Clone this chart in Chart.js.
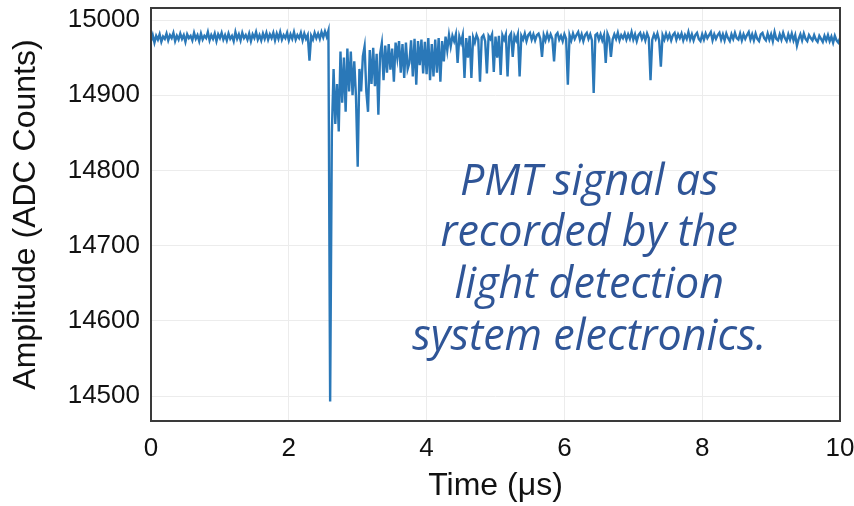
<!DOCTYPE html>
<html>
<head>
<meta charset="utf-8">
<script src="https://cdn.jsdelivr.net/npm/chart.js@4.4.1/dist/chart.umd.min.js"></script>
<style>
  html, body { margin: 0; padding: 0; background: #fff; }
  #wrap { width: 854px; height: 506px; }
</style>
</head>
<body>
<div id="wrap"><canvas id="pmtChart" width="854" height="506"></canvas></div>
<script>
// sample spacing of the trace, in microseconds
const sampleStep = 0.025;

// ADC counts, one per sample
const amplitude = [
  14972, 14980, 14970, 14979, 14974, 14981, 14971, 14978, 14975, 14982, // 0
  14973, 14980, 14976, 14983, 14972, 14979, 14974, 14982, 14975, 14980, // 10
  14971, 14981, 14976, 14979, 14973, 14983, 14975, 14980, 14972, 14982, // 20
  14974, 14979, 14976, 14984, 14973, 14980, 14975, 14982, 14972, 14981, // 30
  14976, 14983, 14974, 14980, 14973, 14982, 14975, 14979, 14972, 14984, // 40
  14975, 14981, 14973, 14983, 14976, 14980, 14974, 14982, 14972, 14981, // 50
  14976, 14984, 14974, 14980, 14973, 14982, 14975, 14983, 14974, 14981, // 60
  14976, 14983, 14973, 14982, 14975, 14984, 14974, 14980, 14976, 14983, // 70
  14973, 14981, 14975, 14984, 14974, 14980, 14976, 14983, 14973, 14982, // 80
  14975, 14980, 14946, 14979, 14974, 14983, 14976, 14982, 14975, 14984, // 90
  14977, 14985, 14978, 14986, 14493, 14850, 14935, 14862, 14915, 14852, // 100
  14958, 14890, 14950, 14878, 14962, 14905, 14958, 14900, 14945, 14898, // 110
  14805, 14935, 14905, 14952, 14965, 14905, 14878, 14960, 14915, 14963, // 120
  14912, 14955, 14874, 14955, 14969, 14920, 14966, 14930, 14968, 14934, // 130
  14962, 14918, 14970, 14950, 14972, 14930, 14968, 14923, 14970, 14935, // 140
  14943, 14973, 14925, 14975, 14914, 14972, 14940, 14974, 14929, 14971, // 150
  14928, 14976, 14920, 14968, 14925, 14974, 14930, 14976, 14918, 14972, // 160
  14945, 14978, 14960, 14980, 14965, 14979, 14972, 14981, 14943, 14978, // 170
  14970, 14980, 14923, 14976, 14950, 14979, 14923, 14977, 14970, 14980, // 180
  14974, 14918, 14977, 14980, 14972, 14929, 14979, 14975, 14981, 14931, // 190
  14978, 14950, 14979, 14927, 14980, 14974, 14981, 14925, 14978, 14982, // 200
  14951, 14979, 14973, 14981, 14925, 14979, 14974, 14982, 14972, 14980, // 210
  14983, 14974, 14981, 14973, 14980, 14982, 14975, 14951, 14980, 14973, // 220
  14982, 14974, 14981, 14975, 14945, 14980, 14983, 14974, 14979, 14972, // 230
  14981, 14975, 14914, 14980, 14973, 14982, 14975, 14980, 14984, 14974, // 240
  14981, 14972, 14980, 14983, 14975, 14981, 14973, 14903, 14980, 14982, // 250
  14974, 14981, 14973, 14980, 14943, 14982, 14976, 14951, 14974, 14981, // 260
  14975, 14983, 14973, 14980, 14976, 14982, 14974, 14981, 14975, 14984, // 270
  14974, 14981, 14972, 14980, 14983, 14975, 14981, 14973, 14982, 14976, // 280
  14920, 14974, 14981, 14975, 14982, 14973, 14938, 14980, 14974, 14982, // 290
  14975, 14981, 14973, 14980, 14983, 14974, 14981, 14976, 14982, 14973, // 300
  14980, 14975, 14984, 14974, 14981, 14973, 14980, 14983, 14975, 14972, // 310
  14981, 14974, 14982, 14976, 14980, 14984, 14973, 14981, 14975, 14980, // 320
  14983, 14974, 14981, 14973, 14982, 14976, 14972, 14981, 14975, 14983, // 330
  14976, 14974, 14982, 14973, 14981, 14975, 14980, 14984, 14974, 14981, // 340
  14973, 14982, 14975, 14972, 14981, 14983, 14976, 14973, 14982, 14974, // 350
  14981, 14972, 14984, 14975, 14973, 14981, 14974, 14983, 14976, 14972, // 360
  14981, 14974, 14982, 14973, 14980, 14966, 14975, 14981, 14973, 14982, // 370
  14975, 14972, 14980, 14976, 14973, 14980, 14974, 14971, 14979, 14975, // 380
  14971, 14979, 14973, 14980, 14972, 14978, 14970, 14979, 14973, 14970, // 390
  14976                                                                 // 400
];

const xTicks = [0, 2, 4, 6, 8, 10];
const yTicks = [14500, 14600, 14700, 14800, 14900, 15000];
const noteLines = ['PMT signal as', 'recorded by the', 'light detection', 'system electronics.'];

const points = amplitude.map((v, i) => ({ x: +(i * sampleStep).toFixed(3), y: v }));

// box around the plot + the blue note
const frameAndNote = {
  id: 'frameAndNote',
  afterDraw(chart) {
    const { ctx, chartArea: a, scales } = chart;
    ctx.save();
    ctx.strokeStyle = '#3a3a3a';
    ctx.lineWidth = 2;
    ctx.strokeRect(a.left, a.top, a.right - a.left, a.bottom - a.top);

    ctx.fillStyle = '#2f5597';
    ctx.font = 'italic 43px "Open Sans"';
    ctx.textAlign = 'center';
    ctx.textBaseline = 'alphabetic';
    const cx = scales.x.getPixelForValue(6.36);
    const y0 = scales.y.getPixelForValue(14768);
    noteLines.forEach((line, k) => {
      ctx.fillText(line, cx, y0 + k * 51.7);
    });
    ctx.restore();
  }
};

const ctx = document.getElementById('pmtChart').getContext('2d');
const pmtChart = new Chart(ctx, {
  type: 'line',
  data: {
    datasets: [{
      data: points,
      borderColor: '#2a78b8',
      borderWidth: 2.4,
      pointRadius: 0,
      tension: 0,
      fill: false
    }]
  },
  options: {
    responsive: false,
    animation: false,
    layout: { padding: { top: 8, right: 14, left: 0, bottom: 0 } },
    plugins: {
      legend: { display: false },
      tooltip: { enabled: false }
    },
    scales: {
      x: {
        type: 'linear',
        min: 0,
        max: 10,
        afterBuildTicks: s => { s.ticks = xTicks.map(v => ({ value: v })); },
        afterFit: s => { s.height = 85; s.paddingLeft = 0; s.paddingRight = 0; },
        grid: { color: '#ececec', lineWidth: 1, drawTicks: false },
        border: { display: false },
        ticks: {
          padding: 12,
          color: '#111',
          font: { family: 'Liberation Sans', size: 26 },
          callback: v => String(v)
        },
        title: {
          display: true,
          text: 'Time (μs)',
          color: '#111',
          font: { family: 'Liberation Sans', size: 32 },
          padding: { top: 0, bottom: 1 }
        }
      },
      y: {
        min: 14467,
        max: 15016,
        afterBuildTicks: s => { s.ticks = yTicks.map(v => ({ value: v })); },
        afterFit: s => { s.width = 151; s.paddingTop = 0; s.paddingBottom = 0; },
        grid: { color: '#ececec', lineWidth: 1, drawTicks: false },
        border: { display: false },
        ticks: {
          padding: 11,
          color: '#111',
          font: { family: 'Liberation Sans', size: 26 },
          callback: v => String(v)
        },
        title: {
          display: true,
          text: 'Amplitude (ADC Counts)',
          color: '#111',
          font: { family: 'Liberation Sans', size: 32 },
          padding: { top: 7, bottom: 0 }
        }
      }
    }
  },
  plugins: [frameAndNote]
});
</script>
</body>
</html>
